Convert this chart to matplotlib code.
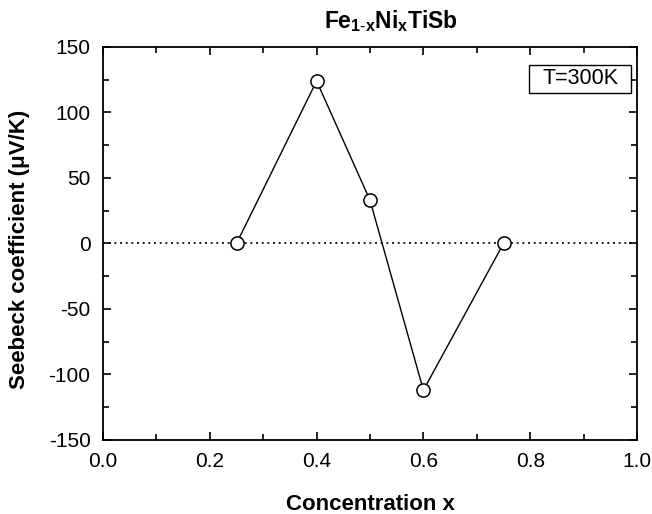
import matplotlib
matplotlib.use("Agg")
import matplotlib.pyplot as plt
from matplotlib.ticker import MultipleLocator
from matplotlib.patches import Rectangle

plt.rcParams['font.family'] = ['Liberation Sans', 'DejaVu Sans']
plt.rcParams['mathtext.fontset'] = 'custom'
plt.rcParams['mathtext.bf'] = 'Liberation Sans:bold'
plt.rcParams['mathtext.rm'] = 'Liberation Sans'
plt.rcParams['axes.unicode_minus'] = False

concentration = [0.25, 0.4, 0.5, 0.6, 0.75]
seebeck = [0, 124, 33, -112, 0]
x_ticks = [0.0, 0.2, 0.4, 0.6, 0.8, 1.0]
y_ticks = [-150, -100, -50, 0, 50, 100, 150]

fig = plt.figure(figsize=(6.52, 5.14), dpi=100)
ax = fig.add_axes([0.158, 0.144, 0.819, 0.7646])

ax.axhline(0, color='black', linestyle=(0, (1.2, 2.2)), linewidth=1.2, zorder=1)
ax.plot(concentration, seebeck, color='black', linewidth=1.0, marker='o',
        markersize=9.5, markerfacecolor='white', markeredgecolor='black',
        markeredgewidth=1.1, zorder=3)

ax.set_xlim(0, 1.0)
ax.set_ylim(-150, 150)
ax.set_xticks(x_ticks)
ax.set_xticklabels([f"{v:.1f}" for v in x_ticks])
ax.set_yticks(y_ticks)
ax.set_yticklabels([str(v) for v in y_ticks])
ax.xaxis.set_minor_locator(MultipleLocator(0.1))
ax.yaxis.set_minor_locator(MultipleLocator(25))
ax.tick_params(which='both', direction='in', top=True, right=True, labelsize=15, width=1.2)
ax.tick_params(which='major', length=6)
ax.tick_params(which='minor', length=4)
ax.tick_params(axis='x', which='major', pad=9)
ax.tick_params(axis='y', which='major', pad=9)
for s in ax.spines.values():
    s.set_linewidth(1.3)

ax.set_xlabel('Concentration x', fontsize=16, fontweight='bold')
ax.xaxis.set_label_coords(0.5, -0.137)
ax.set_ylabel('Seebeck coefficient (\u03bcV/K)', fontsize=16, fontweight='bold')
ax.yaxis.set_label_coords(-0.137, 0.485)
ax.text(0.539, 1.048, r'$\mathbf{Fe_{1\text{-}x}Ni_xTiSb}$', transform=ax.transAxes,
        fontsize=16.5, ha='center', va='baseline')

ax.add_patch(Rectangle((0.798, 0.883), 0.191, 0.071, transform=ax.transAxes,
                       facecolor='white', edgecolor='black', linewidth=1.0, zorder=4))
ax.text(0.895, 0.9186, 'T=300K', transform=ax.transAxes, fontsize=15.5,
        ha='center', va='center', zorder=5)

fig.savefig('out.png', dpi=100)
